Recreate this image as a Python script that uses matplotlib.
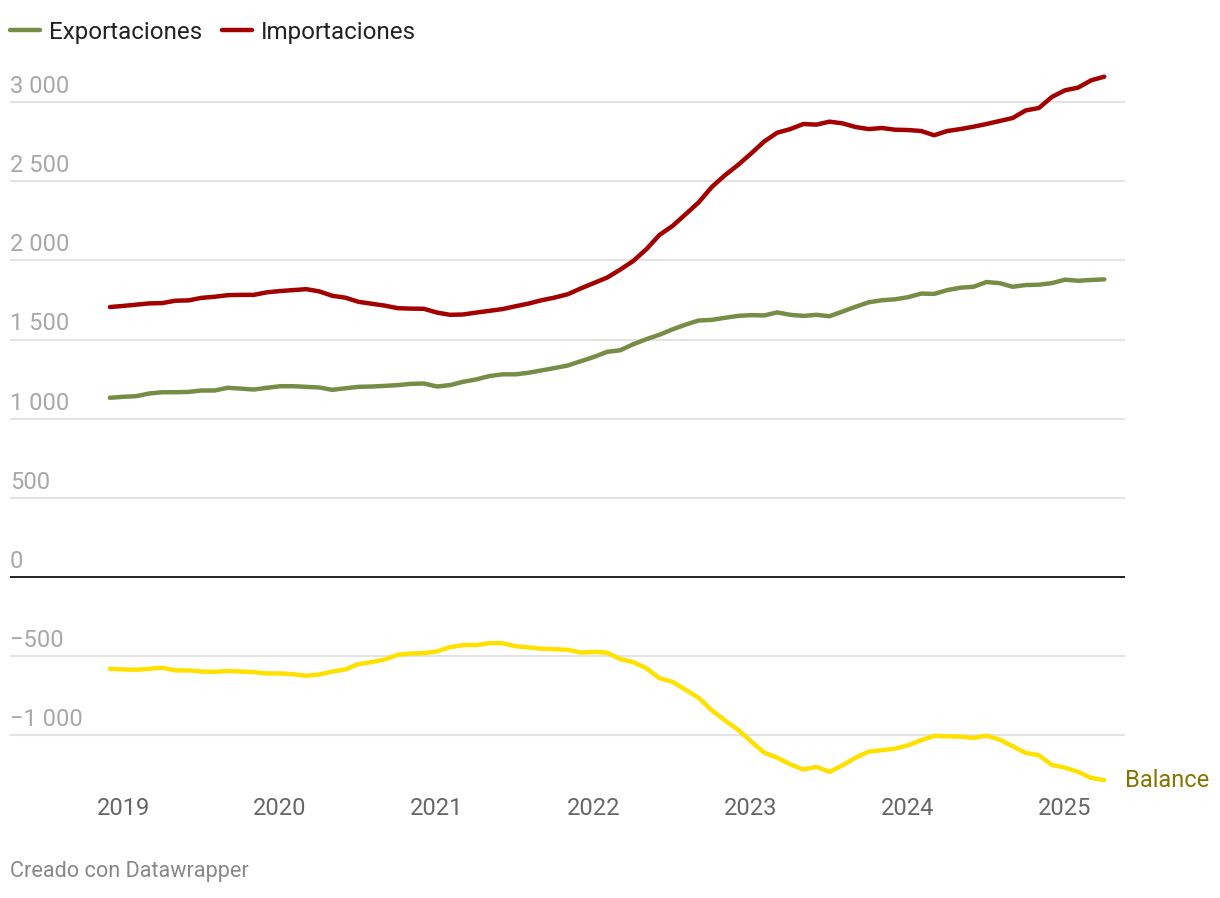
import matplotlib
matplotlib.use("Agg")
import matplotlib.pyplot as plt
import numpy as np
import pandas as pd

plt.rcParams['font.family'] = ['Roboto', 'DejaVu Sans']

months = pd.date_range("2018-12-01", periods=77, freq="MS")
exports = [1132,1138,1142,1159,1167,1167,1169,1178,1178,1195,
           1190,1184,1195,1205,1205,1201,1197,1182,1192,1201,
           1203,1207,1212,1220,1222,1203,1212,1233,1248,1269,
           1280,1280,1290,1305,1320,1336,1363,1390,1422,1432,
           1470,1502,1530,1564,1594,1620,1624,1637,1649,1654,
           1652,1671,1656,1649,1656,1647,1677,1707,1735,1748,
           1754,1767,1790,1788,1812,1827,1833,1863,1856,1833,
           1844,1846,1856,1878,1871,1876,1880]
imports = [1705,1712,1720,1728,1730,1745,1747,1763,1770,1780,
           1782,1782,1798,1806,1812,1818,1804,1776,1764,1738,
           1726,1714,1698,1695,1694,1670,1656,1658,1670,1681,
           1692,1710,1727,1748,1765,1786,1823,1857,1891,1941,
           1996,2070,2160,2217,2291,2366,2463,2537,2602,2674,
           2750,2806,2829,2861,2857,2876,2865,2842,2829,2836,
           2825,2823,2817,2790,2817,2829,2844,2861,2880,2899,
           2947,2962,3032,3074,3091,3137,3160]
balance = [-580,-584,-586,-580,-573,-590,-590,-597,-599,-594,
           -597,-601,-609,-609,-614,-624,-616,-597,-584,-550,
           -538,-521,-491,-483,-481,-470,-443,-430,-430,-418,
           -418,-437,-445,-453,-456,-460,-477,-473,-478,-518,
           -538,-576,-639,-662,-712,-763,-842,-905,-964,-1038,
           -1109,-1141,-1183,-1216,-1199,-1231,-1189,-1141,-1103,-1094,
           -1084,-1063,-1031,-1004,-1006,-1008,-1017,-1002,-1027,-1069,
           -1111,-1126,-1187,-1204,-1231,-1269,-1283]
yticks = [3000, 2500, 2000, 1500, 1000, 500, 0, -500, -1000]
ytick_labels = ["3 000", "2 500", "2 000", "1 500", "1 000", "500", "0", "\u2212500", "\u22121 000"]
years = [2019, 2020, 2021, 2022, 2023, 2024, 2025]

t = np.array([d.year + (d.month - 1) / 12 for d in months])

W, H = 1220, 898
fig = plt.figure(figsize=(W / 100, H / 100), dpi=100)
left_px, right_px, top_px, bot_px = 10, 1125, 60, 790
ax = fig.add_axes([left_px / W, 1 - bot_px / H, (right_px - left_px) / W, (bot_px - top_px) / H])

px_per_year = 157.0
x0 = 2019 - (123 - left_px) / px_per_year
x1 = 2019 + (right_px - 123) / px_per_year
ax.set_xlim(x0, x1)
ppu = 0.15833
ax.set_ylim((577 - bot_px) / ppu, (577 - top_px) / ppu)

for s in ax.spines.values():
    s.set_visible(False)

for v, lab in zip(yticks, ytick_labels):
    if v == 0:
        ax.axhline(0, color="#111111", lw=1.3, zorder=2)
    else:
        ax.axhline(v, color="#e3e3e3", lw=1.5, zorder=1)
    ax.annotate(lab, xy=(0, v), xycoords=("axes fraction", "data"),
                xytext=(0, 6.5), textcoords="offset points",
                ha="left", va="baseline", fontsize=17, color="#a8a8a8")

ax.set_yticks([])
ax.set_xticks(years)
ax.set_xticklabels([str(y) for y in years], fontsize=17, color="#666666")
ax.tick_params(axis="x", length=0, pad=5)

ax.plot(t, balance, color="#ffe100", lw=3.2, solid_joinstyle="round", solid_capstyle="round", zorder=3)
ax.plot(t, exports, color="#778d45", lw=3.2, solid_joinstyle="round", solid_capstyle="round", zorder=3, label="Exportaciones")
ax.plot(t, imports, color="#a30000", lw=3.2, solid_joinstyle="round", solid_capstyle="round", zorder=3, label="Importaciones")

ax.annotate("Balance", xy=(t[-1], balance[-1]), xytext=(15, 0), textcoords="offset points",
            ha="left", va="center", fontsize=17, color="#857600", annotation_clip=False)

leg = fig.legend(loc="center left", bbox_to_anchor=(10 / W, 1 - 32 / H), ncol=2, frameon=False,
                 fontsize=17.4, handlelength=1.24, handletextpad=0.37, columnspacing=0.83,
                 borderpad=0, borderaxespad=0)
for txt in leg.get_texts():
    txt.set_color("#222222")

fig.text(10 / W, 1 - 872 / H, "Creado con Datawrapper", ha="left", va="center", fontsize=15.6, color="#888888")

fig.savefig("out.png", dpi=100, facecolor="white")
